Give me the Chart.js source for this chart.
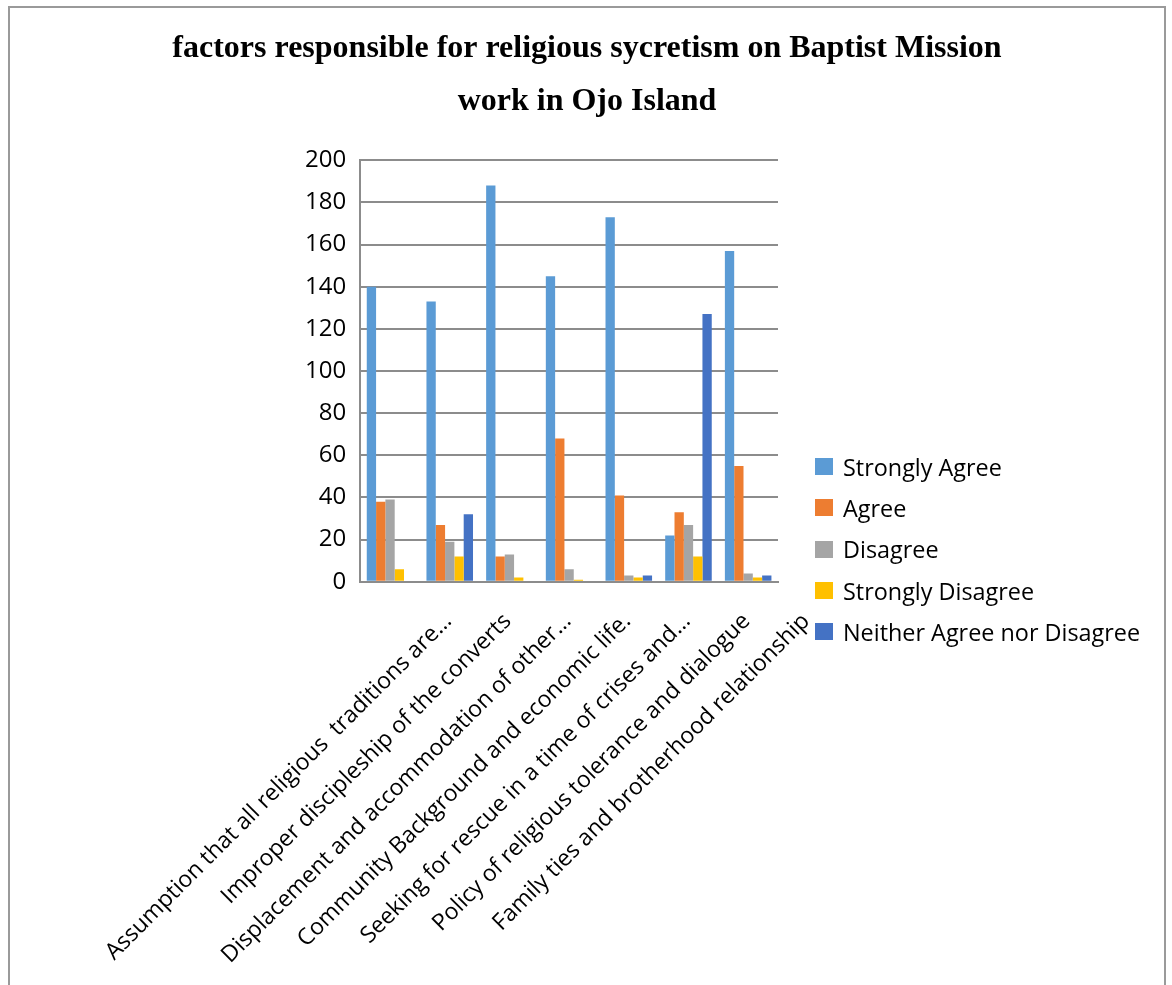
<!DOCTYPE html>
<html>
<head>
<meta charset="utf-8">
<script src="https://cdn.jsdelivr.net/npm/chart.js@4"></script>
<style>
  html, body { margin: 0; padding: 0; background: #fff; overflow: hidden; }
  #frame {
    position: absolute; left: 8px; top: 6px; width: 1158px; height: 1000px;
    border: 2px solid #9a9a9a; box-sizing: border-box;
  }
  #wrap { position: absolute; left: 0; top: 0; width: 1174px; height: 995px; }
  #legend {
    position: absolute; left: 815px; top: 446px; margin: 0; padding: 0; list-style: none;
    font-family: 'Open Sans', sans-serif; font-size: 23.4px; color: #000;
  }
  #legend li { height: 41.3px; display: flex; align-items: center; white-space: nowrap; }
  #legend li span { display: inline-block; width: 18px; height: 17px; margin-right: 10px; }
</style>
</head>
<body>
<div id="frame"></div>
<div id="wrap"><canvas id="chart"></canvas></div>
<ul id="legend"></ul>
<script>
const categories = [
  'Assumption that all religious  traditions are…',
  'Improper discipleship of the converts',
  'Displacement and accommodation of other…',
  'Community Background and economic life.',
  'Seeking for rescue in a time of crises and…',
  'Policy of religious tolerance and dialogue',
  'Family ties and brotherhood relationship'
];
const stronglyAgree = [140, 133, 188, 145, 173, 22, 157];
const agree = [38, 27, 12, 68, 41, 33, 55];
const disagree = [39, 19, 13, 6, 3, 27, 4];
const stronglyDisagree = [6, 12, 2, 1, 2, 12, 2];
const neither = [0, 32, 0, 0, 3, 127, 3];
const titleLines = ['factors responsible for religious sycretism on Baptist Mission', 'work in Ojo Island'];

const ctx = document.getElementById('chart').getContext('2d');

const chart = new Chart(ctx, {
  type: 'bar',
  data: {
    labels: categories,
    datasets: [
      { label: 'Strongly Agree', data: stronglyAgree, backgroundColor: '#5b9bd5' },
      { label: 'Agree', data: agree, backgroundColor: '#ed7d31' },
      { label: 'Disagree', data: disagree, backgroundColor: '#a5a5a5' },
      { label: 'Strongly Disagree', data: stronglyDisagree, backgroundColor: '#ffc000' },
      { label: 'Neither Agree nor Disagree', data: neither, backgroundColor: '#4472c4' }
    ]
  },
  options: {
    responsive: true,
    maintainAspectRatio: false,
    animation: false,
    categoryPercentage: 0.78,
    barPercentage: 1.0,
    layout: { padding: { left: 0, right: 0, top: 0, bottom: 0 } },
    plugins: {
      tooltip: { enabled: false },
      legend: { display: false },
      title: {
        display: true,
        text: titleLines,
        color: '#000',
        font: { family: 'Liberation Serif', size: 32, weight: 'bold', lineHeight: 1.66 },
        padding: { top: 22, bottom: 32 }
      }
    },
    scales: {
      x: {
        grid: { display: false, drawTicks: false },
        border: { color: '#8c8c8c', width: 2 },
        ticks: {
          color: '#000',
          font: { family: 'Open Sans', size: 23 },
          maxRotation: 45,
          minRotation: 45,
          autoSkip: false,
          labelOffset: 58,
          padding: 26
        }
      },
      y: {
        min: 0,
        max: 200,
        grid: { color: '#8c8c8c', lineWidth: 2, drawTicks: false },
        border: { color: '#8c8c8c', width: 2 },
        ticks: {
          stepSize: 20,
          color: '#000',
          font: { family: 'Open Sans', size: 24 },
          padding: 14
        },
        afterFit: (scale) => { scale.width = 358; }
      },
      // empty space on the right where the legend sits
      yRight: {
        position: 'right',
        grid: { display: false, drawOnChartArea: false, drawTicks: false },
        border: { display: false },
        ticks: { display: false },
        afterFit: (scale) => { scale.width = 396; }
      }
    }
  }
});

// legend list built from the chart's datasets
const legendEl = document.getElementById('legend');
chart.data.datasets.forEach(ds => {
  const li = document.createElement('li');
  const box = document.createElement('span');
  box.style.background = ds.backgroundColor;
  li.appendChild(box);
  li.appendChild(document.createTextNode(ds.label));
  legendEl.appendChild(li);
});
</script>
</body>
</html>
